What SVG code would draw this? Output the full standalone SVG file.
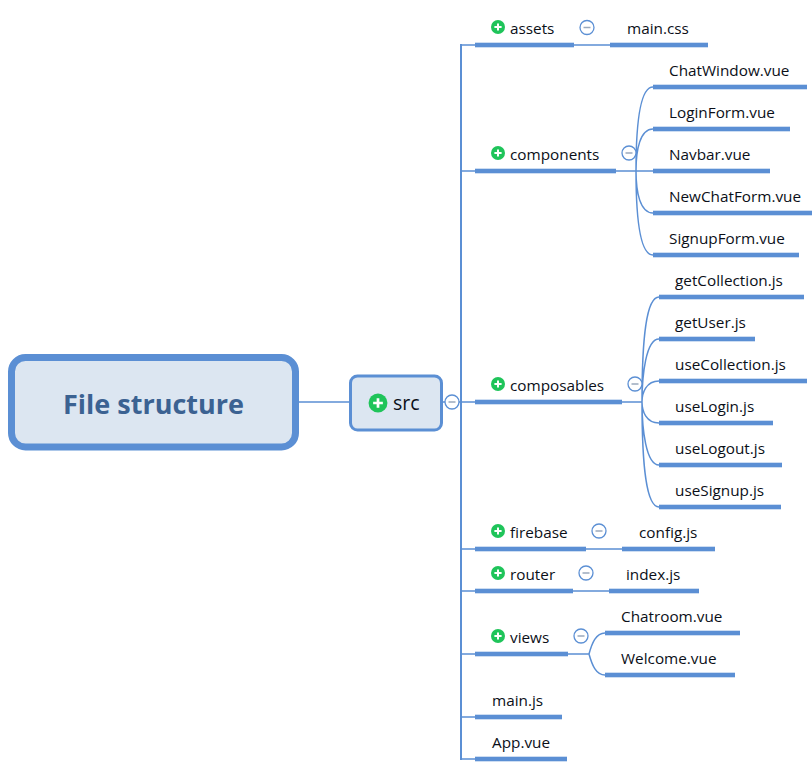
<svg xmlns="http://www.w3.org/2000/svg" width="812" height="769" viewBox="0 0 812 769">
<defs>
<style>
text{font-family:"Open Sans","Noto Sans","Liberation Sans",sans-serif;fill:#0b0f18}
.t{font-size:15.3px}
.bar{fill:#5b8fd4}
.c{fill:none;stroke:#5b8fd4;stroke-width:1.5}
.tr{fill:none;stroke:#5b8fd4;stroke-width:2}
.min{fill:#fff;stroke:#5b8fd4;stroke-width:1.3}
.minl{stroke:#9aa9bd;stroke-width:1.5}
.pl{fill:#1fc45a}
.plx{stroke:#fff;stroke-width:2}
</style>
<g id="plus"><circle r="7" class="pl"/><path d="M-3.6 0H3.6M0-3.6V3.6" class="plx"/></g>
<g id="minus"><circle r="7" class="min"/><path d="M-3.5 0H3.5" class="minl"/></g>
</defs>
<rect width="812" height="769" fill="#fff"/>
<g id="connectors">
<path class="c" d="M299 402H349M442 402H475"/>
<path class="tr" d="M461 44V760"/>
<path class="c" d="M461 45H475M461 171H475M461 549H475M461 591H475M461 654H475M461 717H475M461 759H475"/>
<path class="c" d="M574 45H610M586 549H622M573 591H609M568 654H589"/>
<path class="c" d="M616 171H653M636 171C636 125 640 87 653 87M636 171C636 150 640 129 653 129M636 171C636 192 640 213 653 213M636 171C636 217 640 255 653 255"/>
<path class="c" d="M622 402H642M642 402C642 340 646 297 659 297M642 402C642 375 646 339 659 339M642 402C642 393 646 381 659 381M642 402C642 411 646 423 659 423M642 402C642 429 646 465 659 465M642 402C642 464 646 507 659 507"/>
<path class="c" d="M589 654C592 643 596 633 605 633M589 654C592 665 596 675 605 675"/>
</g>
<g id="root"><rect x="11.500" y="357.500" width="284" height="89.500" rx="14" fill="#dce6f1" stroke="#5b8fd4" stroke-width="7"/><text x="153.500" y="413.500" text-anchor="middle" font-size="27" font-weight="700" style="fill:#3b6292">File structure</text></g>
<g id="src"><rect x="350.500" y="376" width="91" height="54" rx="7" fill="#dce6f1" stroke="#5b8fd4" stroke-width="3"/><use href="#plus" transform="translate(378 403) scale(1.35)"/><text x="393" y="410" font-size="19.500">src</text></g>
<g id="src-toggle"><use href="#minus" x="452" y="402"/></g>
<g id="assets"><rect class="bar" x="475" y="42.700" width="99" height="4.600"/><use href="#plus" x="498" y="27"/><text class="t" x="510" y="34">assets</text><use href="#minus" x="587" y="27.500"/></g>
<g id="main-css"><rect class="bar" x="610" y="42.700" width="98" height="4.600"/><text class="t" x="627" y="34">main.css</text></g>
<g id="components"><rect class="bar" x="475" y="168.700" width="141" height="4.600"/><use href="#plus" x="498" y="153"/><text class="t" x="510" y="160">components</text><use href="#minus" x="629" y="153"/></g>
<g id="chatwindow"><rect class="bar" x="653" y="84.700" width="154" height="4.600"/><text class="t" x="669" y="76">ChatWindow.vue</text></g>
<g id="loginform"><rect class="bar" x="653" y="126.700" width="137" height="4.600"/><text class="t" x="669" y="118">LoginForm.vue</text></g>
<g id="navbar"><rect class="bar" x="653" y="168.700" width="117" height="4.600"/><text class="t" x="669" y="160">Navbar.vue</text></g>
<g id="newchatform"><rect class="bar" x="653" y="210.700" width="159" height="4.600"/><text class="t" x="669" y="202">NewChatForm.vue</text></g>
<g id="signupform"><rect class="bar" x="653" y="252.700" width="146" height="4.600"/><text class="t" x="669" y="244">SignupForm.vue</text></g>
<g id="composables"><rect class="bar" x="475" y="399.700" width="147" height="4.600"/><use href="#plus" x="498" y="384"/><text class="t" x="510" y="391">composables</text><use href="#minus" x="635" y="384"/></g>
<g id="getcollection"><rect class="bar" x="659" y="294.700" width="145" height="4.600"/><text class="t" x="675" y="286">getCollection.js</text></g>
<g id="getuser"><rect class="bar" x="659" y="336.700" width="96" height="4.600"/><text class="t" x="675" y="328">getUser.js</text></g>
<g id="usecollection"><rect class="bar" x="659" y="378.700" width="148" height="4.600"/><text class="t" x="675" y="370">useCollection.js</text></g>
<g id="uselogin"><rect class="bar" x="659" y="420.700" width="114" height="4.600"/><text class="t" x="675" y="412">useLogin.js</text></g>
<g id="uselogout"><rect class="bar" x="659" y="462.700" width="123" height="4.600"/><text class="t" x="675" y="454">useLogout.js</text></g>
<g id="usesignup"><rect class="bar" x="659" y="504.700" width="122" height="4.600"/><text class="t" x="675" y="496">useSignup.js</text></g>
<g id="firebase"><rect class="bar" x="475" y="546.700" width="111" height="4.600"/><use href="#plus" x="498" y="531"/><text class="t" x="510" y="538">firebase</text><use href="#minus" x="599" y="531"/></g>
<g id="config"><rect class="bar" x="622" y="546.700" width="93" height="4.600"/><text class="t" x="639" y="538">config.js</text></g>
<g id="router"><rect class="bar" x="475" y="588.700" width="98" height="4.600"/><use href="#plus" x="498" y="573"/><text class="t" x="510" y="580">router</text><use href="#minus" x="586" y="573"/></g>
<g id="index"><rect class="bar" x="609" y="588.700" width="90" height="4.600"/><text class="t" x="626" y="580">index.js</text></g>
<g id="views"><rect class="bar" x="475" y="651.700" width="93" height="4.600"/><use href="#plus" x="498" y="636"/><text class="t" x="510" y="643">views</text><use href="#minus" x="581" y="636"/></g>
<g id="chatroom"><rect class="bar" x="605" y="630.700" width="135" height="4.600"/><text class="t" x="621" y="622">Chatroom.vue</text></g>
<g id="welcome"><rect class="bar" x="605" y="672.700" width="130" height="4.600"/><text class="t" x="621" y="664">Welcome.vue</text></g>
<g id="main-js"><rect class="bar" x="475" y="714.700" width="87" height="4.600"/><text class="t" x="492" y="706">main.js</text></g>
<g id="app-vue"><rect class="bar" x="475" y="756.700" width="92" height="4.600"/><text class="t" x="492" y="748">App.vue</text></g>
</svg>
